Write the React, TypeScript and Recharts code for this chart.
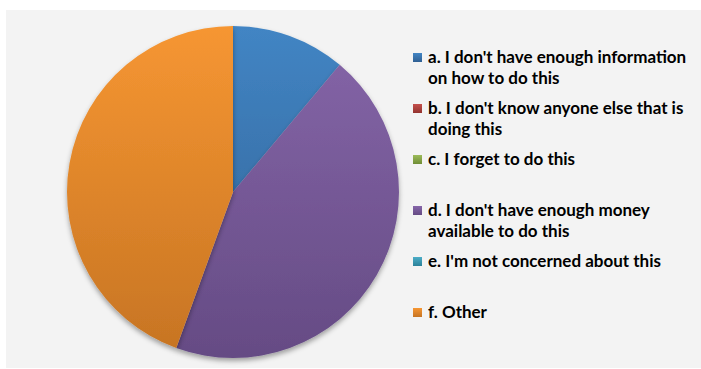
import React from "react";
import { PieChart, Pie, Cell, Legend } from "recharts";

const categories = [
  "a. I don't have enough information\non how to do this",
  "b. I don't know anyone else that is\ndoing this",
  "c. I forget to do this",
  "d. I don't have enough money\navailable to do this",
  "e. I'm not concerned about this",
  "f. Other",
];
const values = [1, 0, 0, 4, 0, 4];
const topColors = ["#4285c4", "#c4504c", "#9cbb5a", "#8666a9", "#4cadc7", "#f69632"];
const bottomColors = ["#2f5f92", "#93332f", "#6f8d35", "#654b84", "#2b8199", "#c67423"];

const data = categories.map((name, i) => ({ name, value: values[i] }));

const renderLegend = (props: any) => {
  const payload = props.payload || [];
  return (
    <div style={{ width: 285 }}>
      {payload.map((entry: any, i: number) => (
        <div key={i} style={{ height: 51, display: "flex", alignItems: "flex-start" }}>
          <svg width={9} height={9} style={{ marginTop: 7, marginRight: 6, flex: "none" }}>
            <rect width={9} height={9} fill={`url(#lg${i})`} />
          </svg>
          <div
            style={{
              fontFamily: "Lato, sans-serif",
              fontWeight: 700,
              fontSize: 17,
              lineHeight: "21px",
              color: "#000",
              whiteSpace: "pre",
            }}
          >
            {entry.value}
          </div>
        </div>
      ))}
    </div>
  );
};

export default function App() {
  return (
    <div style={{ position: "absolute", left: 0, top: 0, width: 701, height: 369, background: "#ffffff" }}>
      <div style={{ position: "absolute", left: 6, top: 10, width: 695, height: 358, background: "#f3f3f3" }} />
      <div style={{ position: "absolute", left: 0, top: 0 }}>
        <PieChart width={701} height={369} margin={{ top: 0, left: 0, right: 0, bottom: 0 }}>
          <defs>
            {topColors.map((c, i) => (
              <linearGradient key={i} id={`pg${i}`} gradientUnits="userSpaceOnUse" x1={0} y1={26} x2={0} y2={358}>
                <stop offset="0%" stopColor={c} />
                <stop offset="100%" stopColor={bottomColors[i]} />
              </linearGradient>
            ))}
            {topColors.map((c, i) => (
              <linearGradient key={`l${i}`} id={`lg${i}`} x1={0} y1={0} x2={0} y2={1}>
                <stop offset="0%" stopColor={c} />
                <stop offset="100%" stopColor={bottomColors[i]} />
              </linearGradient>
            ))}
            <filter id="pieShadow" x="-10%" y="-10%" width="120%" height="125%">
              <feDropShadow dx={0} dy={3} stdDeviation={2.5} floodColor="#000" floodOpacity={0.35} />
            </filter>
          </defs>
          <Pie
            data={data}
            dataKey="value"
            nameKey="name"
            cx={233}
            cy={192}
            outerRadius={166}
            startAngle={90}
            endAngle={-270}
            stroke="none"
            isAnimationActive={false}
            style={{ filter: "url(#pieShadow)" }}
          >
            {data.map((d, i) => (
              <Cell key={i} fill={`url(#pg${i})`} stroke="none" />
            ))}
          </Pie>
          <Legend
            layout="vertical"
            content={renderLegend}
            wrapperStyle={{ left: 413, top: 46, width: 285 }}
          />
        </PieChart>
      </div>
    </div>
  );
}
